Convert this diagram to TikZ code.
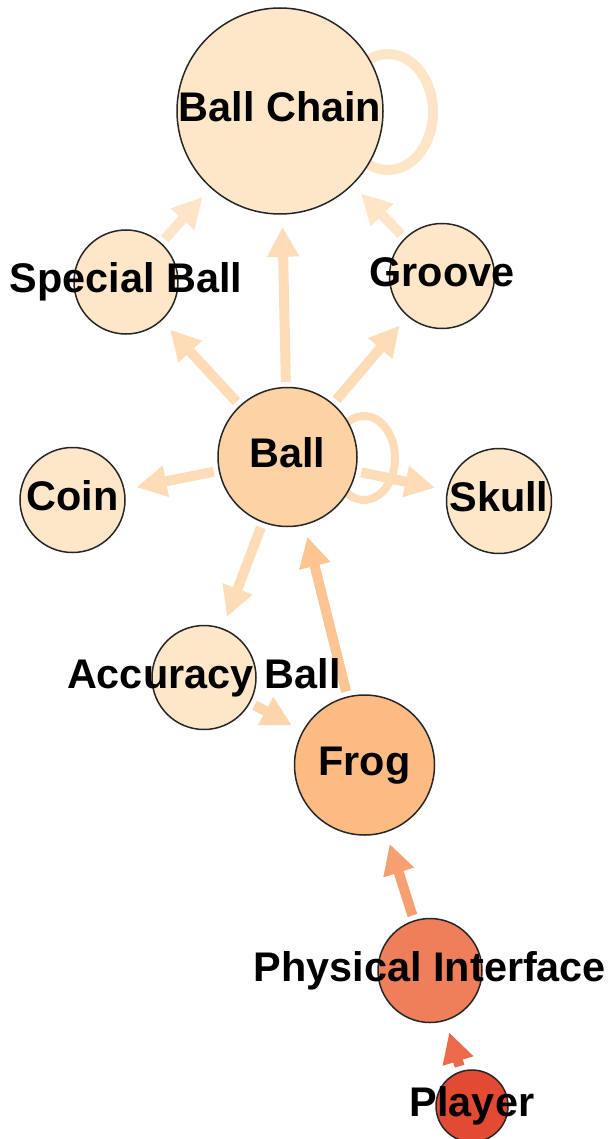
\documentclass[tikz,border=0pt]{standalone}
\usepackage{fontspec}
\setmainfont{Liberation Sans}
\usetikzlibrary{arrows.meta,backgrounds}

% node fills
\definecolor{pale}{HTML}{FEE7C9}
\definecolor{ballfill}{HTML}{FDD3A5}
\definecolor{frogfill}{HTML}{FDBB84}
\definecolor{physfill}{HTML}{EF7F5A}
\definecolor{playerfill}{HTML}{E24A33}
% edge colours
\definecolor{paleedge}{HTML}{FEE5C7}
\definecolor{balledge}{HTML}{FDDCB7}
\definecolor{frogedge}{HTML}{FCC592}
\definecolor{accedge}{HTML}{FDD5AA}
\definecolor{physedge}{HTML}{F6A072}
\definecolor{playeredge}{HTML}{EC6A4C}

\begin{document}
\begin{tikzpicture}[x=0.5pt,y=-0.5pt,
  vertex/.style={circle,draw=black!85,line width=0.75pt,inner sep=0pt,minimum size=#1},
  nodelabel/.style={font=\fontsize{20.7pt}{25pt}\selectfont\bfseries,
    text height=14.9pt,text depth=4.3pt,inner sep=0pt},
  link/.style={line width=5pt,-{Triangle[length=15pt,width=15pt]},
    shorten <=2.5pt,shorten >=6pt},
  loopline/.style={line width=#1}
]
\useasboundingbox (0,0) rectangle (608,1139);
\clip (0,0) rectangle (608,1139);

% circles
\node[vertex=103pt,fill=pale]       (bc)     at (280,111)   {};
\node[vertex=52pt,fill=pale]        (sball)  at (126,282)   {};
\node[vertex=52.5pt,fill=pale]      (groove) at (442,276)   {};
\node[vertex=69.5pt,fill=ballfill]  (ball)   at (287.5,457) {};
\node[vertex=52.5pt,fill=pale]      (coin)   at (72.5,500)  {};
\node[vertex=52.5pt,fill=pale]      (skull)  at (499,501)   {};
\node[vertex=52pt,fill=pale]        (acc)    at (204,677.5) {};
\node[vertex=70pt,fill=frogfill]    (frog)   at (364.5,765) {};
\node[vertex=52pt,fill=physfill]    (phys)   at (430,970.5) {};
\node[vertex=36pt,fill=playerfill]  (player) at (472,1106)  {};

% labels
\node[nodelabel] (bc-t)     at (bc)     {Ball Chain};
\node[nodelabel] (sball-t)  at (sball)  {Special Ball};
\node[nodelabel] (groove-t) at (groove) {Groove};
\node[nodelabel] (ball-t)   at (ball)   {Ball};
\node[nodelabel] (coin-t)   at (coin)   {Coin};
\node[nodelabel] (skull-t)  at (skull)  {Skull};
\node[nodelabel] (acc-t)    at (acc)    {Accuracy Ball};
\node[nodelabel] (frog-t)   at (frog)   {Frog};
\node[nodelabel] (phys-t)   at (phys)   {Physical Interface};
\node[nodelabel] (player-t) at (player) {Player};

% self-loop centres
\coordinate (bcloop)   at (388,112);
\coordinate (ballloop) at (364,458);

\begin{scope}[on background layer]
  % self loops, partly hidden behind their circles
  \draw[loopline=5pt,paleedge] (bcloop) ellipse [x radius=22.5pt,y radius=29pt];
  \draw[loopline=4pt,balledge] (ballloop) ellipse [x radius=15.5pt,y radius=21pt];

  % edges
  \draw[link,paleedge] (sball)  -- (bc);
  \draw[link,paleedge] (groove) -- (bc);
  \draw[link,balledge] (ball) -- (bc);
  \draw[link,balledge] (ball) -- (sball);
  \draw[link,balledge] (ball) -- (groove);
  \draw[link,balledge] (ball) -- (coin);
  \draw[link,balledge] (ball) -- (skull);
  \draw[link,balledge] (ball) -- (acc);
  \draw[link,frogedge] (frog) -- (ball);
  \draw[link,accedge]  (acc)  -- (frog);
  \draw[link,physedge] (phys) -- (frog);
  \draw[link,playeredge] (player) -- (phys);
\end{scope}
\end{tikzpicture}
\end{document}
